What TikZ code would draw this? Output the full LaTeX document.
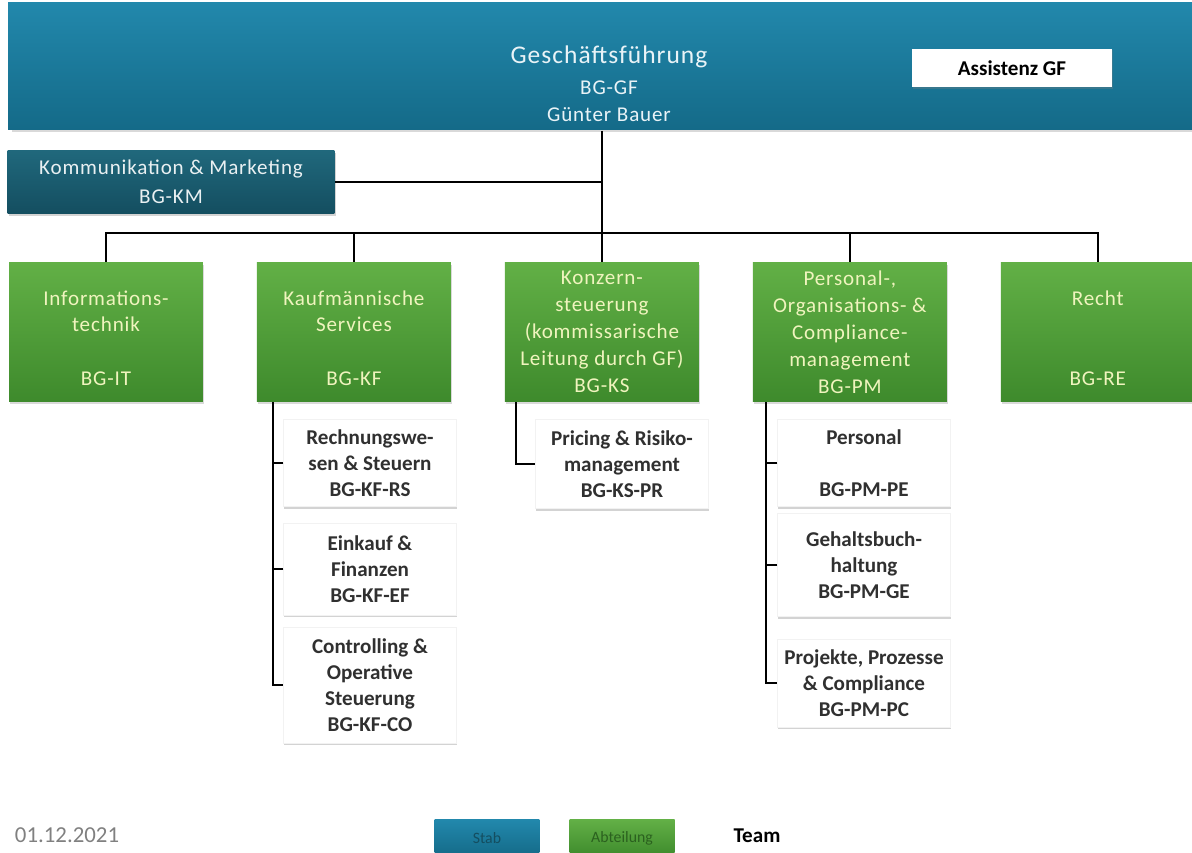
\documentclass[tikz,border=0pt]{standalone}
\usepackage{fontspec}
\setmainfont{Carlito}
\newfontfamily\spaced[LetterSpace=4]{Carlito}
\usetikzlibrary{shadows}

\definecolor{stabtop}{RGB}{34,136,172}
\definecolor{stabbot}{RGB}{20,106,136}
\definecolor{kmtop}{RGB}{32,104,124}
\definecolor{kmbot}{RGB}{20,78,96}
\definecolor{abttop}{RGB}{98,176,70}
\definecolor{abtbot}{RGB}{62,138,44}
\definecolor{abttext}{RGB}{240,244,190}
\definecolor{teamtext}{RGB}{48,48,48}

\begin{document}
\begin{tikzpicture}[x=0.02cm, y=-0.02cm, node distance=4.96cm, line width=1.1pt,
	abt node/.style={inner sep=2pt, minimum width=3.88cm, minimum height=2.78cm, align=center, top color=abttop, bottom color=abtbot, text=abttext, font=\spaced\fontsize{12}{15.3}\selectfont, drop shadow={opacity=0.3, shadow xshift=0.8pt, shadow yshift=-1.2pt}},
	team node/.style={inner sep=2pt, minimum width=3.45cm, align=center, fill=white, draw=black!5, line width=0.4pt, text=teamtext, font=\bfseries\fontsize{12}{14.7}\selectfont, drop shadow={opacity=0.35, shadow xshift=0.3pt, shadow yshift=-1.4pt}}]
	\useasboundingbox (0,0) rectangle (1192,852);

	% Geschaeftsfuehrung and staff
	\node[top color=stabtop, bottom color=stabbot, minimum width=23.68cm, minimum height=2.56cm, drop shadow={opacity=0.3, shadow yshift=-1.2pt}] (GF) at (600,66) {};
	\node[align=center, text=white!90!stabtop, font=\spaced\fontsize{12}{15.5}\selectfont] (GFname) at (609,84) {{\fontsize{14.5}{17}\selectfont Geschäftsführung}\\[2pt] BG-GF\\ Günter Bauer};
	\node[fill=white, minimum width=4cm, minimum height=0.78cm, font=\bfseries\fontsize{12}{14}\selectfont, drop shadow={opacity=0.3, shadow xshift=0.6pt, shadow yshift=-1pt}] (AGF) at (1012,68) {Assistenz GF};
	\node[top color=kmtop, bottom color=kmbot, minimum width=6.54cm, minimum height=1.26cm, align=center, text=white!90!kmtop, font=\spaced\fontsize{12}{16.4}\selectfont, drop shadow={opacity=0.35, shadow xshift=0.8pt, shadow yshift=-1.2pt}] (KM) at (171,182) {Kommunikation \& Marketing\\ BG-KM};

	% Abteilungen
	\node[abt node] (IT) at (106,332) {\mbox{}\\ Informations-\\ technik\\ \mbox{}\\ BG-IT};
	\node[abt node] (KF) [right of=IT] {\mbox{}\\ Kaufmännische\\ Services\\ \mbox{}\\ BG-KF};
	\node[abt node] (KS) [right of=KF] {Konzern-\\ steuerung\\ (kommissarische\\ Leitung durch GF)\\ BG-KS};
	\node[abt node] (PM) [right of=KS] {Personal-,\\ Organisations- \&\\ Compliance-\\ management\\ BG-PM};
	\node[abt node] (RE) [right of=PM] {\mbox{}\\ Recht\\ \mbox{}\\ \mbox{}\\ BG-RE};

	% Teams
	\node[team node, minimum height=1.74cm] (RS) at (370,463) {Rechnungswe-\\ sen \& Steuern\\ BG-KF-RS};
	\node[team node, minimum height=1.84cm] (EF) at (370,569) {Einkauf \&\\ Finanzen\\ BG-KF-EF};
	\node[team node, minimum height=2.32cm] (CO) at (370,685) {Controlling \&\\ Operative\\ Steuerung\\ BG-KF-CO};
	\node[team node, minimum height=1.78cm] (PR) at (622,464) {Pricing \& Risiko-\\ management\\ BG-KS-PR};
	\node[team node, minimum height=1.74cm] (PE) at (864,463) {Personal\\ \mbox{}\\ BG-PM-PE};
	\node[team node, minimum height=2.06cm] (GE) at (864,565) {Gehaltsbuch-\\ haltung\\ BG-PM-GE};
	\node[team node, minimum height=1.76cm] (PC) at (864,683) {Projekte, Prozesse\\ \& Compliance\\ BG-PM-PC};

	% Linien
	\draw (GF.south -| KS.north) -- (KS.north);
	\draw (KM.east) -- (KM.east -| KS.north);
	\draw (IT.north) -- ++(0,-29) -| (RE.north);
	\draw (KF.north) -- ++(0,-29);
	\draw (PM.north) -- ++(0,-29);
	\draw (KF.south west) ++(17,0) coordinate (kf) |- (CO.west);
	\draw (RS.west) -- (RS.west -| kf);
	\draw (EF.west) -- (EF.west -| kf);
	\draw (KS.south west) ++(12,0) |- (PR.west);
	\draw (PM.south west) ++(14,0) coordinate (pm) |- (PC.west);
	\draw (PE.west) -- (PE.west -| pm);
	\draw (GE.west) -- (GE.west -| pm);

	% Datum und Legende
	\node[text=black!50, font=\fontsize{13}{15}\selectfont] (datum) at (67,835) {01.12.2021};
	\node[top color=stabtop, bottom color=stabbot, minimum width=2.1cm, minimum height=0.74cm, text=kmbot, font=\fontsize{9}{10}\selectfont] (legstab) at (487,838) {Stab};
	\node[top color=abttop, bottom color=abtbot, minimum width=2.1cm, minimum height=0.74cm, text=abtbot!70!black, font=\fontsize{9}{10}\selectfont] (legabt) at (622,838) {Abteilung};
	\node[fill=white, minimum width=2.04cm, minimum height=0.74cm, font=\bfseries\fontsize{12}{14}\selectfont, drop shadow={opacity=0.12, shadow xshift=0pt, shadow yshift=-0.8pt}] (legteam) at (757,836) {Team};
\end{tikzpicture}
\end{document}
